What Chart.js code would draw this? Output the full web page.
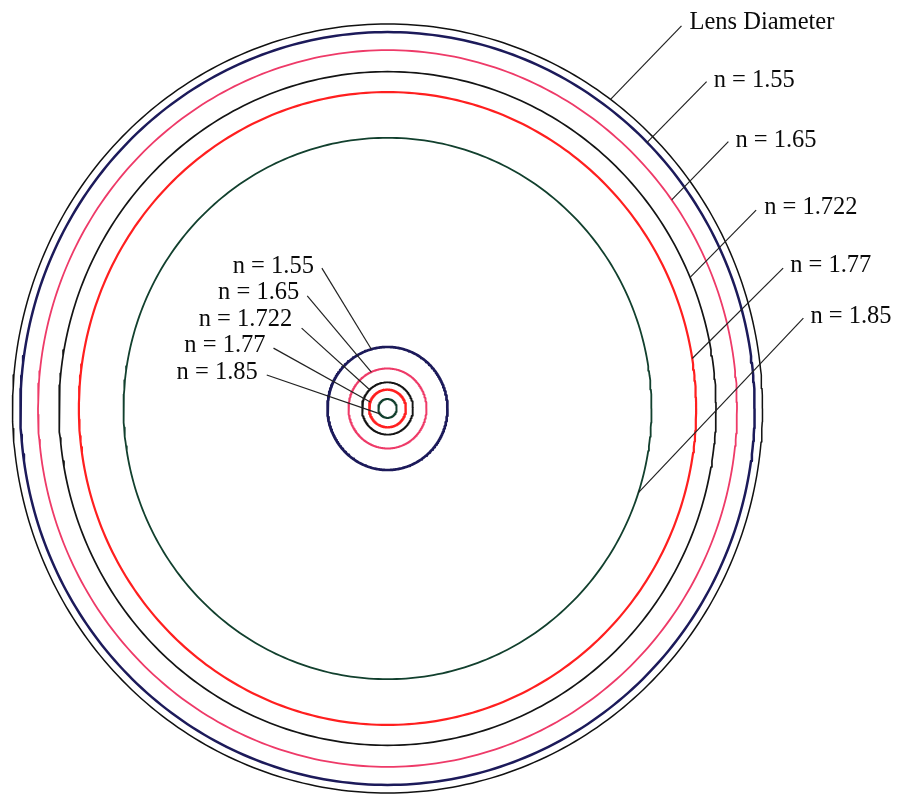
<!DOCTYPE html>
<html>
<head>
<meta charset="utf-8">
<script src="https://cdn.jsdelivr.net/npm/chart.js@4/dist/chart.umd.min.js"></script>
<style>
  html, body { margin: 0; padding: 0; background: #fff; }
  #wrap { width: 898px; height: 794px; position: relative; }
</style>
</head>
<body>
<div id="wrap"><canvas id="rings"></canvas></div>
<script>
// radii in units of the lens radius (lens = 100)
var lensRadius = 100;
var indexLabels = ['n = 1.55', 'n = 1.65', 'n = 1.722', 'n = 1.77', 'n = 1.85'];
var outerRadii = [97.9, 93.2, 87.6, 82.3, 70.4];
var innerRadii = [16.0, 10.4, 6.8, 4.9, 2.45];

var ringColors = ['#1c1a5a', '#ee3a68', '#141414', '#ff1f1f', '#12402e'];
var ringWidths = [2.5, 1.8, 1.7, 2.2, 1.8];

// leader lines: angle on the ring (deg), start of the leader (axis units),
// and the text offset from that start in px
var lensLeader = { angle: 53.5, x: 78.4, y: 99.5, dx: 8, dy: 3 };
var outerLeaders = [
  { angle: 45.0, x: 85.1, y: 85.0, dx: 7, dy: 5 },
  { angle: 35.6, x: 90.9, y: 69.4, dx: 7, dy: 5 },
  { angle: 22.9, x: 98.3, y: 51.6, dx: 8, dy: 4 },
  { angle: 9.1, x: 105.5, y: 36.5, dx: 7, dy: 4 },
  { angle: -18.1, x: 110.9, y: 23.5, dx: 7, dy: 5 }
];
var innerLeaders = [
  { angle: 105.6, x: -17.5, y: 36.5, dx: -8, dy: 5 },
  { angle: 114.5, x: -21.4, y: 29.3, dx: -8, dy: 3 },
  { angle: 134.3, x: -22.9, y: 20.9, dx: -9.5, dy: -2.5 },
  { angle: 160.0, x: -30.4, y: 15.7, dx: -8, dy: 4 },
  { angle: 215.0, x: -32.2, y: 8.7, dx: -9, dy: 4 }
];

function ringPoints(r) {
  var pts = [];
  for (var a = 0; a <= 360; a += 1) {
    var t = a * Math.PI / 180;
    pts.push({ x: r * Math.cos(t), y: r * Math.sin(t) });
  }
  return pts;
}

function ring(label, r, color, width) {
  return {
    label: label,
    data: ringPoints(r),
    showLine: true,
    borderColor: color,
    borderWidth: width,
    borderJoinStyle: 'round',
    pointRadius: 0,
    tension: 0,
    fill: false,
    clip: false
  };
}

var datasets = [ring('Lens Diameter', lensRadius, '#111', 1.5)];
indexLabels.forEach(function (lbl, i) {
  datasets.push(ring(lbl, outerRadii[i], ringColors[i], ringWidths[i]));
  datasets.push(ring(lbl + ' (core)', innerRadii[i], ringColors[i], ringWidths[i] + 0.2));
});

var leaderPlugin = {
  id: 'leaders',
  afterDatasetsDraw: function (chart) {
    var ctx = chart.ctx, xs = chart.scales.x, ys = chart.scales.y;

    function draw(r, ld, text) {
      var t = ld.angle * Math.PI / 180;
      var px = xs.getPixelForValue(r * Math.cos(t));
      var py = ys.getPixelForValue(r * Math.sin(t));
      var ax = xs.getPixelForValue(ld.x);
      var ay = ys.getPixelForValue(ld.y);
      ctx.beginPath();
      ctx.moveTo(ax, ay);
      ctx.lineTo(px, py);
      ctx.stroke();
      ctx.textAlign = ld.dx < 0 ? 'right' : 'left';
      ctx.fillText(text, ax + ld.dx, ay + ld.dy);
    }

    ctx.save();
    ctx.strokeStyle = '#222';
    ctx.lineWidth = 1.2;
    ctx.fillStyle = '#0a0a0a';
    ctx.font = '24.5px "Liberation Serif", "Times New Roman", serif';
    ctx.textBaseline = 'alphabetic';
    draw(lensRadius, lensLeader, 'Lens Diameter');
    indexLabels.forEach(function (lbl, i) {
      draw(outerRadii[i], outerLeaders[i], lbl);
      draw(innerRadii[i], innerLeaders[i], lbl);
    });
    ctx.restore();
  }
};

new Chart(document.getElementById('rings'), {
  type: 'scatter',
  data: { datasets: datasets },
  options: {
    responsive: true,
    maintainAspectRatio: false,
    animation: false,
    layout: { padding: { left: 12.5, right: 135.5, top: 24, bottom: 1 } },
    scales: {
      x: { type: 'linear', min: -lensRadius, max: lensRadius, display: false },
      y: { type: 'linear', min: -lensRadius, max: lensRadius, display: false }
    },
    plugins: {
      legend: { display: false },
      tooltip: { enabled: false }
    }
  },
  plugins: [leaderPlugin]
});
</script>
</body>
</html>
